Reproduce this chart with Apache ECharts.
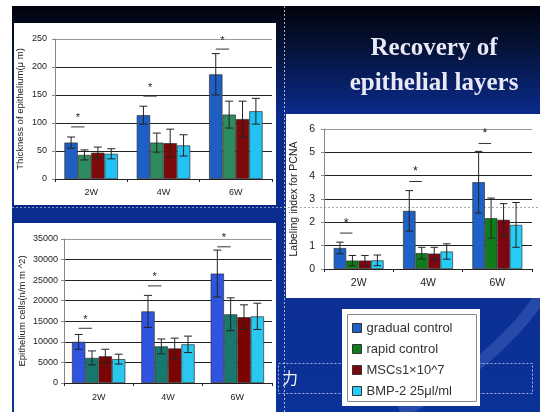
<!DOCTYPE html>
<html>
<head>
<meta charset="utf-8">
<script src="https://cdn.jsdelivr.net/npm/echarts@6/dist/echarts.min.js"></script>
<style>
html,body{margin:0;padding:0;background:#fff;}
#c{width:540px;height:412px;}
</style>
</head>
<body>
<div id="c"></div>
<script>
// ---- data ----
const weeks = ['2W', '4W', '6W'];
const groups = ['gradual control', 'rapid control', 'MSCs1×10^7', 'BMP-2 25μl/ml'];

// Chart 1: Thickness of epithelium (μm)
const thickGradual = [65, 114, 187];
const thickGradualErr = [10, 16, 37];
const thickRapid = [43, 65, 115];
const thickRapidErr = [9, 17, 24];
const thickMSC = [47, 64, 107];
const thickMSCErr = [10, 25, 32];
const thickBMP = [45, 60, 121];
const thickBMPErr = [9, 19, 23];
const thickSig = [93, 148, 232];
const thickTicks = [0, 250, 50];

// Chart 2: Epithelium cells (n/mm^2)
const cellsGradual = [10000, 17400, 26600];
const cellsGradualErr = [1800, 3900, 5700];
const cellsRapid = [6100, 8900, 16700];
const cellsRapidErr = [1700, 1800, 4000];
const cellsMSC = [6500, 8400, 16000];
const cellsMSCErr = [1700, 2500, 3000];
const cellsBMP = [5800, 9400, 16200];
const cellsBMPErr = [1200, 2000, 3200];
const cellsSig = [13300, 23600, 33100];
const cellsTicks = [0, 35000, 5000];

// Chart 3: Labeling index for PCNA
const pcnaGradual = [0.90, 2.49, 3.72];
const pcnaGradualErr = [0.25, 0.87, 1.32];
const pcnaRapid = [0.36, 0.68, 2.18];
const pcnaRapidErr = [0.22, 0.25, 0.86];
const pcnaMSC = [0.36, 0.66, 2.11];
const pcnaMSCErr = [0.22, 0.27, 0.69];
const pcnaBMP = [0.37, 0.75, 1.89];
const pcnaBMPErr = [0.23, 0.33, 0.96];
const pcnaSig = [1.54, 3.75, 5.38];
const pcnaTicks = [0, 6, 1];

// ---- styling ----
const charts = [
  { means: [thickGradual, thickRapid, thickMSC, thickBMP], errs: [thickGradualErr, thickRapidErr, thickMSCErr, thickBMPErr],
    sig: thickSig, ticks: thickTicks, name: 'Thickness of epithelium(μ m)',
    colors: ['#1f5fc4', '#2e8b5e', '#7d0a0a', '#22c2f2'], gap: 0.26,
    grid: { left: 55, top: 39, width: 217, height: 140 }, nameGap: 30, labelSize: 9, nameSize: 9.5, ylMargin: 8, xlMargin: 9 },
  { means: [cellsGradual, cellsRapid, cellsMSC, cellsBMP], errs: [cellsGradualErr, cellsRapidErr, cellsMSCErr, cellsBMPErr],
    sig: cellsSig, ticks: cellsTicks, name: 'Epithelium cells(n/m m ^2)',
    colors: ['#2f55e0', '#17786e', '#7a0404', '#2ac8ee'], gap: 0.23,
    grid: { left: 64, top: 239, width: 208, height: 144 }, nameGap: 37, labelSize: 9, nameSize: 9.5, ylMargin: 6, xlMargin: 10 },
  { means: [pcnaGradual, pcnaRapid, pcnaMSC, pcnaBMP], errs: [pcnaGradualErr, pcnaRapidErr, pcnaMSCErr, pcnaBMPErr],
    sig: pcnaSig, ticks: pcnaTicks, name: 'Labeling index for PCNA',
    colors: ['#1e62c8', '#0f7d1c', '#7e0610', '#26cdf6'], gap: 0.28,
    grid: { left: 324, top: 129, width: 208, height: 140 }, nameGap: 24, labelSize: 10.5, nameSize: 10.5, ylMargin: 9, xlMargin: 9 }
];
const legendColors = ['#1e62c8', '#0f7d1c', '#7e0610', '#26cdf6'];
const FONT = '"Liberation Sans", Arial, sans-serif';

function errRender(gap) {
  return function (params, api) {
    const c = api.value(0), lo = api.value(1), hi = api.value(2), g = api.value(3);
    const band = api.size([1, 0])[0];
    const bw = band * (1 - gap) / 4;
    const pt = api.coord([c, hi]);
    const pb = api.coord([c, lo]);
    const x = pt[0] + (g - 1.5) * bw;
    const h = bw * 0.3;
    const st = { stroke: '#222', lineWidth: 1 };
    return { type: 'group', children: [
      { type: 'line', shape: { x1: x, y1: pt[1], x2: x, y2: pb[1] }, style: st },
      { type: 'line', shape: { x1: x - h, y1: pt[1], x2: x + h, y2: pt[1] }, style: st },
      { type: 'line', shape: { x1: x - h, y1: pb[1], x2: x + h, y2: pb[1] }, style: st }
    ]};
  };
}
function sigRender(gap, fs) {
  return function (params, api) {
    const c = api.value(0), v = api.value(1);
    const band = api.size([1, 0])[0];
    const bw = band * (1 - gap) / 4;
    const p = api.coord([c, v]);
    const x1 = p[0] - 1.5 * bw, x2 = p[0] - 0.5 * bw;
    return { type: 'group', children: [
      { type: 'line', shape: { x1: x1, y1: p[1], x2: x2, y2: p[1] }, style: { stroke: '#333', lineWidth: 1 } },
      { type: 'text', x: (x1 + x2) / 2, y: p[1] - 3, style: { text: '*', fill: '#222', font: fs + 'px ' + FONT, textAlign: 'center', textVerticalAlign: 'bottom' } }
    ]};
  };
}

const grids = [], xAxes = [], yAxes = [], series = [];
charts.forEach((ch, k) => {
  grids.push(Object.assign({ show: true, borderColor: '#999', borderWidth: 1, backgroundColor: 'transparent' }, ch.grid));
  xAxes.push({ type: 'category', gridIndex: k, data: weeks,
    axisLine: { lineStyle: { color: '#222' } },
    axisTick: { show: true, length: 3, lineStyle: { color: '#222' } },
    axisLabel: { fontSize: ch.labelSize, color: '#222', fontFamily: FONT, margin: ch.xlMargin } });
  const nLines = Math.round((ch.ticks[1] - ch.ticks[0]) / ch.ticks[2]) + 1;
  const lineColors = []; for (let i = 0; i < nLines; i++) lineColors.push(i === nLines - 1 ? '#999' : '#222');
  yAxes.push({ type: 'value', gridIndex: k, min: ch.ticks[0], max: ch.ticks[1], interval: ch.ticks[2],
    name: ch.name, nameLocation: 'middle', nameGap: ch.nameGap, nameRotate: 90,
    nameTextStyle: { fontSize: ch.nameSize, color: '#222', fontFamily: FONT },
    axisLine: { show: true, lineStyle: { color: '#888' } },
    axisTick: { show: true, length: 3, lineStyle: { color: '#888' } },
    splitLine: { show: true, lineStyle: { color: lineColors, width: 1 } },
    axisLabel: { fontSize: ch.labelSize, color: '#222', fontFamily: FONT, margin: ch.ylMargin, formatter: v => String(v) } });
  ch.means.forEach((m, g) => {
    series.push({ type: 'bar', name: groups[g], xAxisIndex: k, yAxisIndex: k, data: m,
      barGap: '0%', barCategoryGap: (ch.gap * 100) + '%',
      itemStyle: { color: ch.colors[g], borderColor: '#333', borderWidth: 0.7 }, silent: true });
  });
  const errData = [];
  ch.means.forEach((m, g) => m.forEach((v, c) => errData.push([c, v - ch.errs[g][c], v + ch.errs[g][c], g])));
  series.push({ type: 'custom', xAxisIndex: k, yAxisIndex: k, data: errData, encode: { x: 0, y: [1, 2] },
    renderItem: errRender(ch.gap), z: 5, silent: true });
  series.push({ type: 'custom', xAxisIndex: k, yAxisIndex: k, data: ch.sig.map((v, c) => [c, v]), encode: { x: 0, y: 1 },
    renderItem: sigRender(ch.gap, ch.labelSize + 2), z: 5, silent: true });
});

const dash = { stroke: 'rgba(200,210,230,0.85)', lineWidth: 1, lineDash: [2, 2] };
const graphics = [
  { type: 'rect', shape: { x: 12, y: 6, width: 528, height: 406 },
    style: { fill: { type: 'linear', x: 0, y: 0, x2: 0, y2: 1, colorStops: [
      { offset: 0, color: '#01030c' }, { offset: 0.1, color: '#041236' }, { offset: 0.26, color: '#0b2a8a' }, { offset: 1, color: '#0b3299' }] } } },
  { type: 'bezierCurve', shape: { x1: 400, y1: 412, cpx1: 470, cpy1: 380, cpx2: 520, cpy2: 330, x2: 545, y2: 290 }, style: { fill: 'none', stroke: 'rgba(120,150,230,0.25)', lineWidth: 12 } },
  { type: 'rect', shape: { x: 14, y: 23, width: 262, height: 182 }, style: { fill: '#fff' } },
  { type: 'rect', shape: { x: 14, y: 223, width: 262, height: 189 }, style: { fill: '#fff' } },
  { type: 'rect', shape: { x: 286, y: 114, width: 254, height: 184 }, style: { fill: '#fff' } },
  { type: 'line', shape: { x1: 12, y1: 207.5, x2: 540, y2: 207.5 }, style: { stroke: 'rgba(150,160,180,0.9)', lineWidth: 1, lineDash: [2, 2] } },
  { type: 'line', shape: { x1: 284.5, y1: 6, x2: 284.5, y2: 412 }, style: dash },
  { type: 'rect', shape: { x: 278.5, y: 363.5, width: 254, height: 30 }, style: Object.assign({ fill: 'none' }, dash) },
  { type: 'text', x: 282, y: 378, style: { text: '力', fill: '#f0f0f8', font: '16px "Noto Sans CJK JP"', textVerticalAlign: 'middle' } },
  { type: 'rect', shape: { x: 342, y: 309, width: 138, height: 97 }, style: { fill: '#fff' } },
  { type: 'rect', shape: { x: 347.5, y: 314.5, width: 129, height: 87 }, style: { fill: 'none', stroke: '#888', lineWidth: 1 } },
  { type: 'text', x: 434, y: 66.5, style: { text: 'Recovery of\nepithelial layers', fill: '#e8e8f6',
    font: 'bold 25px "Liberation Serif", "Times New Roman", serif', textAlign: 'center', textVerticalAlign: 'middle', lineHeight: 35,
    shadowColor: 'rgba(0,0,0,0.8)', shadowBlur: 3, shadowOffsetX: 2, shadowOffsetY: 2 } }
];

const chart = echarts.init(document.getElementById('c'), null, { renderer: 'canvas' });
chart.setOption({
  backgroundColor: '#fff',
  animation: false,
  graphic: { elements: graphics },
  grid: grids,
  xAxis: xAxes,
  yAxis: yAxes,
  legend: {
    orient: 'vertical', left: 352, top: 321, padding: 0, itemGap: 7, itemWidth: 9, itemHeight: 9,
    icon: 'rect',
    textStyle: { fontSize: 13, color: '#333', fontFamily: FONT, lineHeight: 14 },
    data: groups.map((n, i) => ({ name: n, itemStyle: { color: legendColors[i], borderColor: '#333', borderWidth: 1 } }))
  },
  series: series
});
</script>
</body>
</html>
